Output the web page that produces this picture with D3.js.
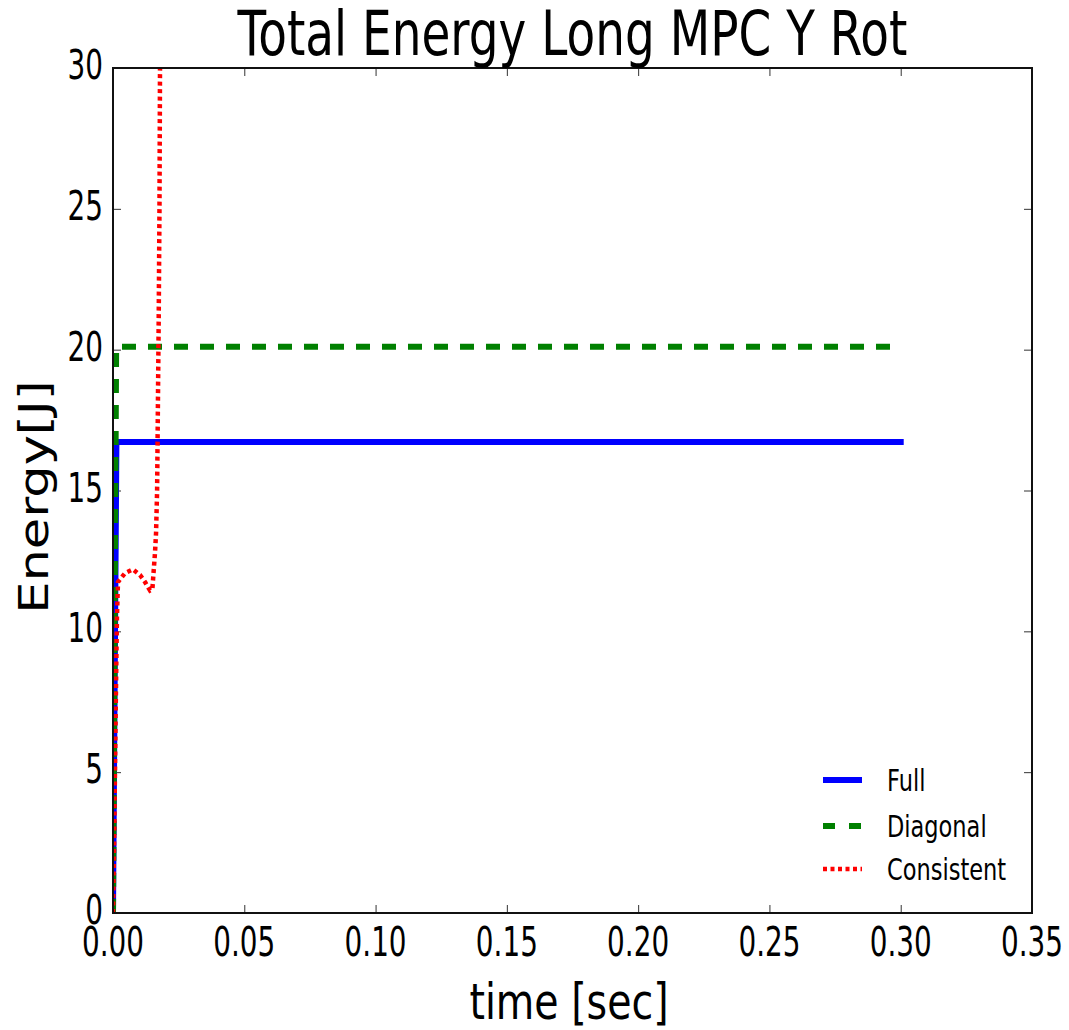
<!DOCTYPE html>
<html>
<head>
<meta charset="UTF-8">
<title>Total Energy Long MPC Y Rot</title>
<script src="https://d3js.org/d3.v7.min.js"></script>
<style>
  body { margin: 0; background: #fff; }
  svg { display: block; }
  text { font-family: "DejaVu Sans", sans-serif; fill: #000; }
</style>
</head>
<body>
<script>
// data
var xTicks = [0, 0.05, 0.10, 0.15, 0.20, 0.25, 0.30, 0.35];
var yTicks = [0, 5, 10, 15, 20, 25, 30];

var fullT = [0, 0.0013, 0.3];
var fullE = [0, 16.72, 16.72];

var diagT = [0, 0.0012, 0.3];
var diagE = [0, 20.1, 20.1];

var consT = [0, 0.0005, 0.001, 0.0015, 0.0019, 0.0046, 0.0076, 0.0103, 0.0122, 0.0141, 0.0150, 0.0153, 0.0160, 0.0164, 0.0168, 0.0171, 0.0174, 0.0177, 0.0179, 0.0181];
var consE = [0, 3, 7, 10.5, 11.75, 12.07, 12.2, 12.0, 11.75, 11.45, 11.5, 11.9, 12.8, 13.5, 15, 18, 21, 25, 30, 32];

var W = 1069, H = 1030;
var L = 113, R = 1032, T = 68, B = 913;

var svg = d3.select('body').append('svg').attr('width', W).attr('height', H);

var x = d3.scaleLinear().domain([0, 0.35]).range([L, R]);
var y = d3.scaleLinear().domain([0, 30]).range([B, T]);

svg.append('clipPath').attr('id', 'plot')
  .append('rect').attr('x', L).attr('y', T).attr('width', R - L).attr('height', B - T);

// tick marks, all pointing inward
function styleAxis(g) {
  g.select('.domain').remove();
  g.selectAll('.tick text').remove();
  g.selectAll('.tick line').attr('stroke', '#333').attr('stroke-width', 1);
}
svg.append('g').attr('transform', 'translate(0,' + B + ')')
  .call(d3.axisBottom(x).tickValues(xTicks).tickSize(-8).tickSizeOuter(0)).call(styleAxis);
svg.append('g').attr('transform', 'translate(0,' + T + ')')
  .call(d3.axisTop(x).tickValues(xTicks).tickSize(-8).tickSizeOuter(0)).call(styleAxis);
svg.append('g').attr('transform', 'translate(' + L + ',0)')
  .call(d3.axisLeft(y).tickValues(yTicks).tickSize(-8).tickSizeOuter(0)).call(styleAxis);
svg.append('g').attr('transform', 'translate(' + R + ',0)')
  .call(d3.axisRight(y).tickValues(yTicks).tickSize(-8).tickSizeOuter(0)).call(styleAxis);

// series
function pts(ts, es) { return ts.map(function (t, i) { return [t, es[i]]; }); }
var line = d3.line().x(function (d) { return x(d[0]); }).y(function (d) { return y(d[1]); });

var lines = svg.append('g').attr('clip-path', 'url(#plot)');
lines.append('path').datum(pts(fullT, fullE)).attr('d', line)
  .attr('fill', 'none').attr('stroke', '#0000ff').attr('stroke-width', 6)
  .attr('stroke-linecap', 'square');
lines.append('path').datum(pts(diagT, diagE)).attr('d', line)
  .attr('fill', 'none').attr('stroke', '#008000').attr('stroke-width', 6)
  .attr('stroke-dasharray', '14,12');
lines.append('path').datum(pts(consT, consE)).attr('d', line)
  .attr('fill', 'none').attr('stroke', '#ff0000').attr('stroke-width', 4.5)
  .attr('stroke-dasharray', '4,3.5');

// frame
svg.append('rect').attr('x', L).attr('y', T).attr('width', R - L).attr('height', B - T)
  .attr('fill', 'none').attr('stroke', '#111').attr('stroke-width', 2);

// tick labels (condensed look of the original)
svg.append('g').selectAll('text').data(xTicks).enter().append('text')
  .attr('transform', function (d) { return 'translate(' + x(d) + ',956) scale(0.68,1)'; })
  .attr('text-anchor', 'middle').attr('font-size', 41)
  .text(function (d) { return d.toFixed(2); });

svg.append('g').selectAll('text').data(yTicks).enter().append('text')
  .attr('transform', function (d) { return 'translate(103,' + (y(d) + 11) + ') scale(0.68,1)'; })
  .attr('text-anchor', 'end').attr('font-size', 41)
  .text(function (d) { return d; });

// title and axis labels
svg.append('text').attr('transform', 'translate(' + ((L + R) / 2) + ',55) scale(0.745,1)')
  .attr('text-anchor', 'middle').attr('font-size', 63)
  .text('Total Energy Long MPC Y Rot');

svg.append('text').attr('transform', 'translate(569,1019) scale(0.79,1)')
  .attr('text-anchor', 'middle').attr('font-size', 50)
  .text('time [sec]');

svg.append('text').attr('transform', 'translate(48,497) scale(0.8,1) rotate(-90)')
  .attr('text-anchor', 'middle').attr('font-size', 51)
  .text('Energy[J]');

// legend
var legNames = ['Full', 'Diagonal', 'Consistent'];
var legColors = ['#0000ff', '#008000', '#ff0000'];
var legDash = [null, '12,14', '4,3.5'];
var legWidth = [6, 6, 4.5];
var legY = [780, 826, 869];

var leg = svg.append('g');
legNames.forEach(function (n, i) {
  leg.append('line').attr('x1', 823).attr('x2', 862).attr('y1', legY[i]).attr('y2', legY[i])
    .attr('stroke', legColors[i]).attr('stroke-width', legWidth[i])
    .attr('stroke-dasharray', legDash[i]);
  leg.append('text').attr('transform', 'translate(887,' + (legY[i] + 11) + ') scale(0.75,1)')
    .attr('font-size', 30).text(n);
});
</script>
</body>
</html>
